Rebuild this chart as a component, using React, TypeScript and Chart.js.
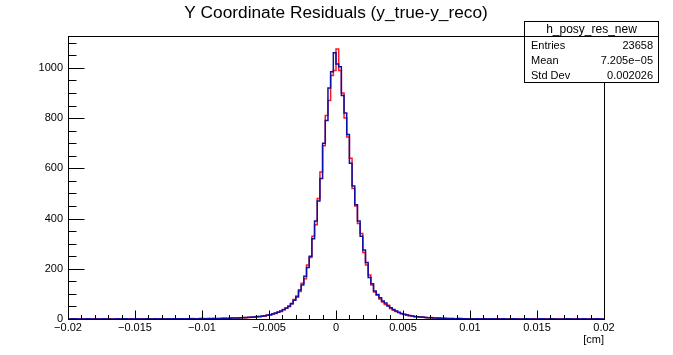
import React, { useEffect, useRef } from 'react';
import { Chart, registerables } from 'chart.js';

Chart.register(...registerables);

const X_MIN = -0.02;
const X_MAX = 0.02;
const BIN_WIDTH = 0.0002;
const Y_MIN = 0;
const Y_MAX = 1127;

const titleText = 'Y Coordinate Residuals (y_true-y_reco)';
const xAxisTitle = '[cm]';

const xTickValues = [-0.02, -0.015, -0.01, -0.005, 0, 0.005, 0.01, 0.015, 0.02];
const xTickLabels = ['\u22120.02', '\u22120.015', '\u22120.01', '\u22120.005', '0', '0.005', '0.01', '0.015', '0.02'];
const yTickValues = [0, 200, 400, 600, 800, 1000];
const yTickLabels = ['0', '200', '400', '600', '800', '1000'];

const statsName = 'h_posy_res_new';
const statsLabels = ['Entries', 'Mean', 'Std Dev'];
const statsValues = ['23658', '7.205e\u221205', '0.002026'];

// 200 bins of width 0.0002 from -0.02 to 0.02
const blueCounts = [
  0, 0, 1, 0, 0, 0, 0, 1, 0, 0,
  0, 0, 0, 1, 0, 0, 0, 0, 1, 0,
  0, 1, 0, 0, 0, 1, 0, 0, 0, 1,
  0, 0, 1, 0, 1, 0, 0, 1, 0, 1,
  1, 0, 1, 0, 1, 1, 0, 1, 1, 2,
  1, 1, 2, 1, 2, 1, 2, 2, 3, 2,
  3, 4, 4, 4, 5, 5, 6, 7, 7, 8,
  9, 10, 11, 13, 15, 17, 20, 24, 27, 32,
  37, 44, 50, 62, 75, 88, 115, 135, 170, 205,
  250, 320, 390, 470, 560, 700, 790, 920, 985, 1060,
  1015, 1005, 890, 820, 735, 620, 530, 455, 390, 330,
  275, 225, 165, 140, 112, 98, 85, 72, 64, 52,
  45, 38, 32, 26, 22, 19, 16, 14, 12, 10,
  9, 8, 7, 6, 5, 5, 4, 4, 3, 3,
  3, 2, 1, 2, 1, 1, 2, 1, 1, 0,
  1, 0, 1, 0, 0, 1, 0, 0, 1, 0,
  0, 0, 1, 0, 0, 0, 1, 0, 0, 0,
  0, 1, 0, 0, 0, 0, 1, 0, 0, 0,
  1, 0, 0, 0, 0, 0, 1, 0, 0, 0,
  0, 0, 1, 0, 0, 0, 0, 1, 0, 0,
];

const redCounts = [
  0, 1, 0, 0, 0, 0, 1, 0, 0, 0,
  1, 0, 0, 0, 0, 1, 0, 0, 0, 0,
  1, 0, 0, 1, 0, 0, 0, 1, 0, 0,
  1, 0, 0, 0, 1, 0, 1, 0, 0, 1,
  0, 1, 1, 0, 1, 0, 2, 1, 1, 1,
  2, 1, 1, 2, 2, 2, 1, 3, 2, 3,
  3, 4, 3, 5, 4, 6, 5, 6, 8, 7,
  10, 9, 12, 12, 16, 16, 21, 22, 28, 30,
  38, 43, 52, 60, 78, 92, 110, 142, 160, 215,
  245, 330, 375, 480, 585, 690, 810, 870, 970, 990,
  1075, 990, 900, 800, 725, 640, 520, 450, 380, 340,
  265, 215, 175, 135, 108, 95, 80, 68, 58, 55,
  42, 35, 30, 27, 21, 18, 17, 13, 12, 9,
  9, 7, 8, 6, 5, 6, 4, 3, 4, 3,
  2, 2, 2, 1, 1, 2, 1, 1, 0, 1,
  1, 0, 0, 1, 0, 0, 0, 1, 0, 0,
  1, 0, 0, 0, 0, 1, 0, 0, 1, 0,
  0, 0, 0, 1, 0, 0, 0, 1, 0, 0,
  0, 1, 0, 0, 0, 0, 0, 1, 0, 0,
  1, 0, 0, 0, 0, 1, 0, 0, 0, 0,
];

const FONT = '"Liberation Sans", Arial, Helvetica, sans-serif';

function toStepPoints(counts: number[]) {
  const pts = counts.map((c, i) => ({ x: X_MIN + i * BIN_WIDTH, y: c }));
  pts.push({ x: X_MAX, y: counts[counts.length - 1] });
  return pts;
}

const rootDecor = {
  id: 'rootDecor',
  afterDraw(chart: any) {
    const ctx = chart.ctx as CanvasRenderingContext2D;
    const area = chart.chartArea;
    const xs = chart.scales.x;
    const ys = chart.scales.y;
    const L = Math.round(area.left) + 0.5;
    const R = Math.round(area.right) + 0.5;
    const T = Math.round(area.top) + 0.5;
    const B = Math.round(area.bottom) + 0.5;
    ctx.save();
    ctx.strokeStyle = '#000';
    ctx.lineWidth = 1;
    ctx.strokeRect(L, T, R - L, B - T);

    // x ticks (inward)
    ctx.beginPath();
    for (let k = 0; k <= 40; k++) {
      const v = X_MIN + k * 0.001;
      const px = Math.round(xs.getPixelForValue(v)) + 0.5;
      const len = k % 5 === 0 ? 9 : 4.5;
      ctx.moveTo(px, B);
      ctx.lineTo(px, B - len);
    }
    // y ticks (inward)
    for (let k = 0; k * 50 <= Y_MAX; k++) {
      const v = k * 50;
      const py = Math.round(ys.getPixelForValue(v)) + 0.5;
      const len = v % 200 === 0 ? 16 : 8;
      ctx.moveTo(L, py);
      ctx.lineTo(L + len, py);
    }
    ctx.stroke();

    // title
    ctx.fillStyle = '#000';
    ctx.font = `17.3px ${FONT}`;
    ctx.textAlign = 'center';
    ctx.textBaseline = 'alphabetic';
    ctx.fillText(titleText, 336, 18);

    // x axis title
    ctx.font = `11px ${FONT}`;
    ctx.textAlign = 'right';
    ctx.fillText(xAxisTitle, 604, 343);

    // stats box
    const bx = 524.5, by = 21.5, bw = 134, bh = 61;
    ctx.fillStyle = '#fff';
    ctx.fillRect(bx, by, bw, bh);
    ctx.strokeRect(bx, by, bw, bh);
    ctx.beginPath();
    ctx.moveTo(bx, 36.5);
    ctx.lineTo(bx + bw, 36.5);
    ctx.stroke();
    ctx.fillStyle = '#000';
    ctx.font = `12px ${FONT}`;
    ctx.textAlign = 'center';
    ctx.textBaseline = 'middle';
    ctx.fillText(statsName, bx + bw / 2, 29.5);
    ctx.font = `11px ${FONT}`;
    const rowY = [45.5, 60.5, 75.5];
    statsLabels.forEach((lab, i) => {
      ctx.textAlign = 'left';
      ctx.fillText(lab, 531, rowY[i]);
      ctx.textAlign = 'right';
      ctx.fillText(statsValues[i], 653, rowY[i]);
    });
    ctx.restore();
  },
};

export default function App() {
  const ref = useRef<HTMLCanvasElement | null>(null);
  useEffect(() => {
    document.body.style.margin = '0';
    const canvas = ref.current;
    if (!canvas) return;
    const chart = new Chart(canvas, {
      type: 'line',
      data: {
        datasets: [
          {
            label: 'blue',
            data: toStepPoints(blueCounts),
            borderColor: '#1010a8',
            borderWidth: 1.5,
            pointRadius: 0,
            fill: false,
            stepped: 'before',
            order: 0,
          },
          {
            label: 'red',
            data: toStepPoints(redCounts),
            borderColor: '#ff1a1a',
            borderWidth: 1.5,
            pointRadius: 0,
            fill: false,
            stepped: 'before',
            order: 1,
          },
        ],
      },
      options: {
        animation: false,
        responsive: false,
        devicePixelRatio: 1,
        parsing: false,
        normalized: true,
        layout: { padding: { left: 0, top: 36, right: 69, bottom: 0 } },
        plugins: { legend: { display: false }, tooltip: { enabled: false }, title: { display: false } },
        scales: {
          x: {
            type: 'linear',
            min: X_MIN,
            max: X_MAX,
            grid: { display: false, drawTicks: false },
            border: { display: false },
            afterBuildTicks: (s: any) => {
              s.ticks = xTickValues.map((v) => ({ value: v }));
            },
            afterFit: (s: any) => {
              s.height = 36;
            },
            ticks: {
              autoSkip: false,
              maxRotation: 0,
              minRotation: 0,
              padding: 2,
              color: '#000',
              font: { family: FONT, size: 11 },
              callback: (v: any) => {
                const idx = xTickValues.findIndex((t) => Math.abs(t - Number(v)) < 1e-9);
                return idx >= 0 ? xTickLabels[idx] : '';
              },
            },
          },
          y: {
            type: 'linear',
            min: Y_MIN,
            max: Y_MAX,
            grid: { display: false, drawTicks: false },
            border: { display: false },
            afterBuildTicks: (s: any) => {
              s.ticks = yTickValues.map((v) => ({ value: v }));
            },
            afterFit: (s: any) => {
              s.width = 68;
            },
            ticks: {
              autoSkip: false,
              padding: 5,
              color: '#000',
              font: { family: FONT, size: 11 },
              callback: (v: any) => {
                const idx = yTickValues.indexOf(Number(v));
                return idx >= 0 ? yTickLabels[idx] : '';
              },
            },
          },
        },
      },
      plugins: [rootDecor],
    });
    return () => chart.destroy();
  }, []);
  return (
    <div style={{ width: 673, height: 355, background: '#fff' }}>
      <canvas ref={ref} width={673} height={355} style={{ display: 'block' }} />
    </div>
  );
}
